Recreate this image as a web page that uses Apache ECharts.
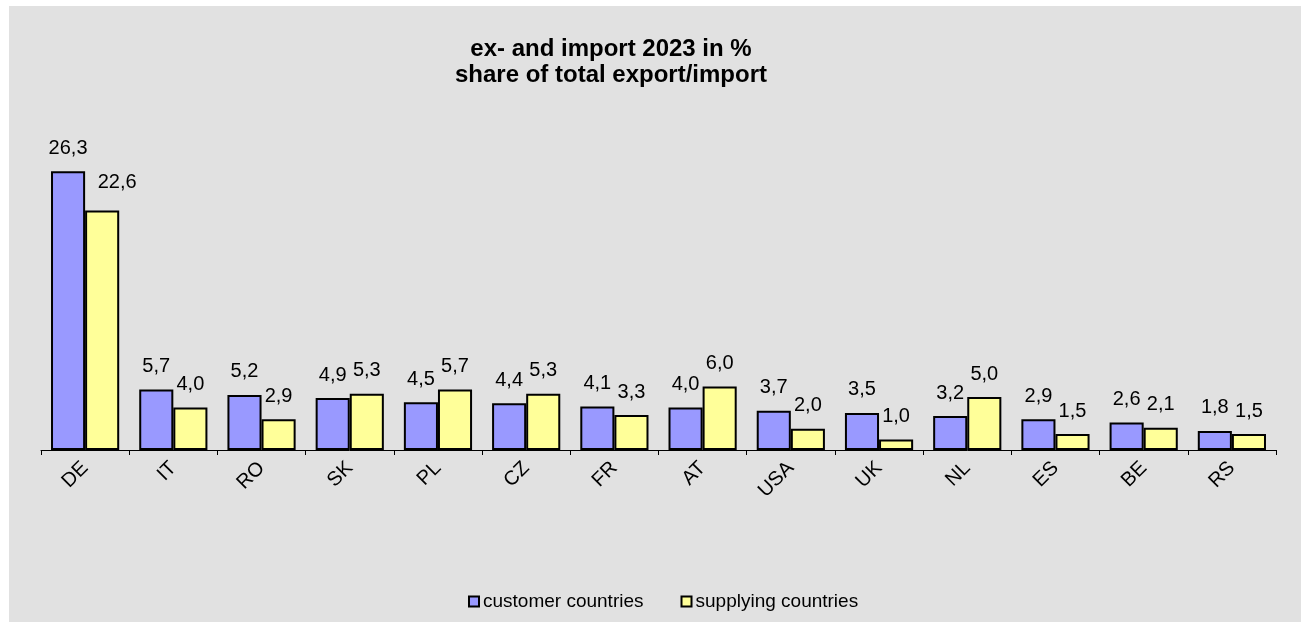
<!DOCTYPE html>
<html>
<head>
<meta charset="utf-8">
<script src="https://cdn.jsdelivr.net/npm/echarts@6/dist/echarts.min.js"></script>
<style>
html,body{margin:0;padding:0;background:#fff;}
#chart{width:1301px;height:622px;}
</style>
</head>
<body>
<div id="chart"></div>
<script>
const categories = ['DE','IT','RO','SK','PL','CZ','FR','AT','USA','UK','NL','ES','BE','RS'];
const customerValues = [26.3,5.7,5.2,4.9,4.5,4.4,4.1,4.0,3.7,3.5,3.2,2.9,2.6,1.8];
const supplyingValues = [22.6,4.0,2.9,5.3,5.7,5.3,3.3,6.0,2.0,1.0,5.0,1.5,2.1,1.5];
const seriesNames = ['customer countries','supplying countries'];
const titleLines = ['ex- and import 2023 in %','share of total export/import'];

const FONT = 'Liberation Sans, Arial, sans-serif';
const fmt = p => Number(p.value).toFixed(1).replace('.', ',');

const labelBase = {
  show: true, position: 'top', distance: 13,
  fontFamily: FONT, fontSize: 20, color: '#000', formatter: fmt
};

const supplyingData = supplyingValues.map((v, i) =>
  i === 0 ? { value: v, label: { offset: [15, -5] } } : v);

const chart = echarts.init(document.getElementById('chart'), null, {renderer: 'canvas'});
chart.setOption({
  backgroundColor: '#ffffff',
  animation: false,
  graphic: [{
    type: 'rect', z: -100, silent: true,
    shape: { x: 9, y: 6, width: 1292, height: 616 },
    style: { fill: '#e1e1e1' }
  }],
  title: {
    text: titleLines.join('\n'),
    left: 606, top: 31, textAlign: 'center',
    textStyle: { fontFamily: FONT, fontSize: 24, fontWeight: 'bold', color: '#000', lineHeight: 26 }
  },
  legend: {
    data: seriesNames,
    left: 463, top: 587,
    itemWidth: 10, itemHeight: 10, itemGap: 37,
    icon: 'rect',
    itemStyle: { borderColor: '#000', borderWidth: 2 },
    textStyle: { fontFamily: FONT, fontSize: 19, color: '#000', padding: [0,0,0,-1] }
  },
  grid: { left: 41, right: 25, top: 132, bottom: 172, containLabel: false },
  xAxis: {
    type: 'category', data: categories,
    axisLine: { lineStyle: { color: '#000', width: 1 } },
    axisTick: { show: true, length: 5, lineStyle: { color: '#000' } },
    axisLabel: { rotate: 45, margin: 15, fontFamily: FONT, fontSize: 20, color: '#000' }
  },
  yAxis: {
    type: 'value', min: 0, max: 30, show: false, splitLine: { show: false }
  },
  series: [
    {
      name: seriesNames[0], type: 'bar', data: customerValues,
      barGap: '0%', barCategoryGap: '22.7%',
      itemStyle: { color: '#9999ff', borderColor: '#000', borderWidth: 2 },
      label: labelBase
    },
    {
      name: seriesNames[1], type: 'bar', data: supplyingData,
      barGap: '0%', barCategoryGap: '22.7%',
      itemStyle: { color: '#ffff99', borderColor: '#000', borderWidth: 2 },
      label: labelBase
    }
  ]
});
</script>
</body>
</html>
